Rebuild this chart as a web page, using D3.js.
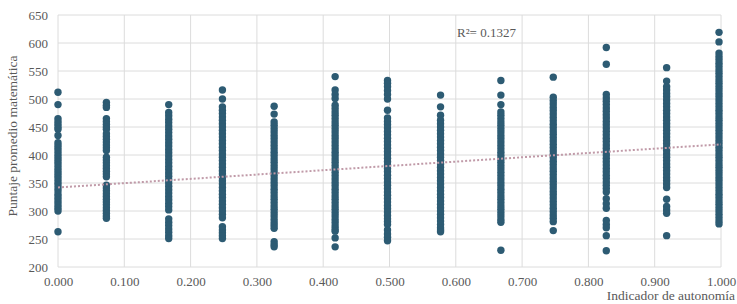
<!DOCTYPE html>
<html>
<head>
<meta charset="utf-8">
<script src="https://cdn.jsdelivr.net/npm/d3@7"></script>
<style>
  body { margin: 0; background: #fff; }
  text { font-family: "Liberation Serif", "DejaVu Serif", serif; fill: #595959; }
</style>
</head>
<body>
<svg id="chart" width="737" height="304"></svg>
<script>
// autonomy levels (x) and the scores
const autonomia = [0, 0.073, 0.167, 0.248, 0.326, 0.418, 0.497, 0.577, 0.668, 0.747, 0.827, 0.918, 0.997]

const puntajes = [
  [512, 490, 465, 460, 455, 450, 446, 435, 422, 417, 412, 407, 402, 397, 392, 387, 382, 377, 372, 367, 362, 357, 352, 347, 341, 336, 330, 325, 320, 315, 310, 305, 300, 263],
  [494, 489, 485, 465, 460, 455, 450, 446, 438, 433, 428, 423, 418, 413, 408, 396, 391, 386, 381, 376, 371, 366, 361, 346, 341, 336, 331, 326, 321, 316, 311, 306, 301, 296, 291, 287],
  [490, 476, 470, 464, 458, 452, 446, 440, 434, 428, 422, 416, 410, 404, 398, 392, 386, 380, 374, 368, 362, 356, 350, 344, 338, 332, 326, 320, 314, 308, 302, 286, 280, 274, 268, 262, 256, 251],
  [516, 500, 486, 480, 474, 468, 462, 456, 450, 444, 438, 432, 426, 420, 414, 408, 402, 396, 390, 384, 378, 372, 366, 360, 354, 348, 342, 336, 330, 324, 318, 312, 306, 300, 294, 288, 272, 266, 261, 256, 251],
  [487, 473, 459, 453, 447, 441, 435, 429, 423, 417, 411, 405, 399, 393, 387, 381, 375, 369, 363, 357, 351, 345, 339, 333, 327, 321, 315, 309, 303, 297, 291, 285, 279, 274, 269, 245, 240, 236],
  [540, 516, 508, 501, 489, 483, 477, 471, 465, 459, 453, 447, 441, 435, 429, 423, 417, 411, 405, 399, 393, 387, 381, 375, 369, 363, 357, 351, 345, 339, 333, 327, 321, 315, 309, 303, 297, 291, 285, 279, 273, 268, 264, 252, 236],
  [533, 528, 522, 515, 508, 500, 480, 466, 460, 454, 448, 442, 436, 430, 424, 418, 412, 406, 400, 394, 388, 382, 376, 370, 364, 358, 352, 346, 340, 334, 328, 322, 316, 310, 304, 298, 292, 286, 281, 276, 266, 259, 253, 247],
  [507, 486, 471, 462, 456, 450, 444, 438, 432, 426, 420, 414, 408, 402, 396, 390, 384, 378, 372, 366, 360, 354, 348, 342, 336, 330, 324, 318, 312, 306, 300, 294, 288, 282, 276, 270, 266, 263],
  [533, 507, 490, 477, 471, 465, 459, 453, 447, 441, 435, 429, 423, 417, 411, 405, 399, 393, 387, 381, 375, 369, 363, 357, 351, 345, 339, 333, 327, 321, 315, 309, 303, 297, 291, 285, 280, 230],
  [539, 503, 497, 491, 485, 479, 473, 467, 461, 455, 449, 443, 437, 431, 425, 419, 413, 407, 401, 395, 389, 383, 377, 371, 365, 359, 353, 347, 341, 335, 329, 323, 317, 311, 305, 299, 293, 287, 281, 265],
  [592, 562, 508, 502, 496, 490, 484, 478, 472, 466, 460, 454, 448, 442, 436, 430, 424, 418, 412, 406, 400, 394, 388, 382, 376, 370, 364, 358, 352, 346, 340, 334, 322, 313, 305, 283, 276, 270, 256, 229],
  [556, 532, 522, 516, 510, 504, 498, 492, 486, 480, 474, 468, 462, 456, 450, 444, 438, 432, 426, 420, 414, 408, 402, 396, 390, 384, 378, 372, 366, 360, 354, 348, 342, 321, 308, 302, 296, 256],
  [619, 602, 582, 576, 570, 564, 558, 552, 546, 540, 534, 528, 522, 516, 510, 504, 498, 492, 486, 480, 474, 468, 462, 456, 450, 444, 438, 432, 426, 420, 414, 408, 402, 396, 390, 384, 378, 372, 366, 360, 354, 348, 342, 336, 330, 324, 318, 312, 306, 300, 294, 288, 282, 277]
]

// linear trend endpoints
const trendX = [0, 1]
const trendY = [342, 419]
const r2Label = "R²= 0.1327"

const xTicks = [0, 0.1, 0.2, 0.3, 0.4, 0.5, 0.6, 0.7, 0.8, 0.9, 1.0]
const yTicks = [200, 250, 300, 350, 400, 450, 500, 550, 600, 650]

const svg = d3.select("#chart")
const margin = {left: 58, right: 16, top: 15, bottom: 37}
const width = 737, height = 304

const x = d3.scaleLinear().domain([0, 1]).range([margin.left, width - margin.right])
const y = d3.scaleLinear().domain([200, 650]).range([height - margin.bottom, margin.top])

// grid
svg.append("g")
    .selectAll("line.v").data(xTicks).enter().append("line")
    .attr("x1", d => x(d)).attr("x2", d => x(d))
    .attr("y1", y(200)).attr("y2", y(650))
    .attr("stroke", "#dcdcdc").attr("stroke-width", 1)

svg.append("g")
    .selectAll("line.h").data(yTicks).enter().append("line")
    .attr("x1", x(0)).attr("x2", x(1))
    .attr("y1", d => y(d)).attr("y2", d => y(d))
    .attr("stroke", "#dcdcdc").attr("stroke-width", 1)

// axes (labels only)
const xAxis = svg.append("g")
    .attr("transform", "translate(0," + y(200) + ")")
    .call(d3.axisBottom(x).tickValues(xTicks).tickFormat(d3.format(".3f")).tickSize(0).tickPadding(10))
const yAxis = svg.append("g")
    .attr("transform", "translate(" + x(0) + ",0)")
    .call(d3.axisLeft(y).tickValues(yTicks).tickSize(0).tickPadding(10))

;[xAxis, yAxis].forEach(a => {
  a.select(".domain").remove()
  a.selectAll("text").attr("font-size", 13).attr("fill", "#595959")
    .attr("font-family", "Liberation Serif, serif")
})

// points
const pts = []
autonomia.forEach((a, i) => puntajes[i].forEach(p => pts.push({a: a, p: p})))

svg.append("g")
    .selectAll("circle").data(pts).enter().append("circle")
    .attr("cx", d => x(d.a))
    .attr("cy", d => y(d.p))
    .attr("r", 3.7)
    .attr("fill", "#2d5b73")

// trend line
svg.append("line")
    .attr("x1", x(trendX[0])).attr("y1", y(trendY[0]))
    .attr("x2", x(trendX[1])).attr("y2", y(trendY[1]))
    .attr("stroke", "#c09aa8")
    .attr("stroke-width", 2)
    .attr("stroke-dasharray", "2,2")

svg.append("text")
    .attr("x", 457).attr("y", 37)
    .attr("font-size", 13)
    .text(r2Label)

// axis titles
svg.append("text")
    .attr("text-anchor", "end")
    .attr("x", 735).attr("y", 300)
    .attr("font-size", 13.5)
    .text("Indicador de autonomía")

svg.append("text")
    .attr("text-anchor", "middle")
    .attr("transform", "translate(17,136) rotate(-90)")
    .attr("font-size", 13.5)
    .text("Puntaje promedio matemática")
</script>
</body>
</html>
